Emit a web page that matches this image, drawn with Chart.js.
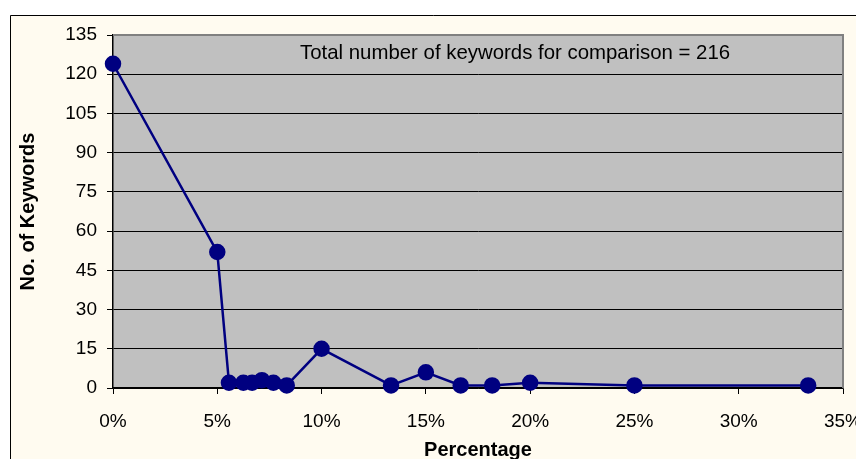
<!DOCTYPE html>
<html>
<head>
<meta charset="utf-8">
<script src="https://cdn.jsdelivr.net/npm/chart.js@4/dist/chart.umd.min.js"></script>
<style>
  html, body { margin: 0; padding: 0; background: #ffffff; }
  #wrap { width: 856px; height: 459px; position: relative; }
</style>
</head>
<body>
<div id="wrap"><canvas id="c" width="856" height="459"></canvas></div>
<script>
// Data
const percentages = [0, 5, 5.56, 6.25, 6.67, 7.14, 7.69, 8.33, 10, 13.33, 15, 16.67, 18.18, 20, 25, 33.33];
const keywordCounts = [124, 52, 2, 2, 2, 3, 2, 1, 15, 1, 6, 1, 1, 2, 1, 1];
const xTickValues = [0, 5, 10, 15, 20, 25, 30, 35];
const yTickValues = [0, 15, 30, 45, 60, 75, 90, 105, 120, 135];
const annotationText = 'Total number of keywords for comparison = 216';
const xTitle = 'Percentage';
const yTitle = 'No. of Keywords';

const CREAM = '#FFFBF0';
const PLOT_GRAY = '#C0C0C0';
const NAVY = '#000080';
const FONT = '"Liberation Sans", Arial, sans-serif';

const points = percentages.map((p, i) => ({ x: p, y: keywordCounts[i] }));

const backgroundPlugin = {
  id: 'bgPlugin',
  beforeDraw(chart) {
    const ctx = chart.ctx;
    const a = chart.chartArea;
    ctx.save();
    ctx.fillStyle = '#ffffff';
    ctx.fillRect(0, 0, chart.width, chart.height);
    ctx.fillStyle = CREAM;
    ctx.fillRect(10, 15, chart.width - 10, chart.height - 15);
    ctx.strokeStyle = '#000000';
    ctx.lineWidth = 1;
    ctx.beginPath();
    ctx.moveTo(10.5, chart.height);
    ctx.lineTo(10.5, 15.5);
    ctx.lineTo(chart.width, 15.5);
    ctx.stroke();
    ctx.fillStyle = PLOT_GRAY;
    ctx.fillRect(a.left, a.top, a.right - a.left, a.bottom - a.top);
    ctx.restore();
  },
  beforeDatasetsDraw(chart) {
    const ctx = chart.ctx;
    const a = chart.chartArea;
    ctx.save();
    ctx.strokeStyle = '#808080';
    ctx.lineWidth = 2;
    ctx.beginPath();
    ctx.moveTo(a.left, a.top);
    ctx.lineTo(a.right, a.top);
    ctx.lineTo(a.right, a.bottom);
    ctx.stroke();
    ctx.restore();
    // annotation text
    ctx.save();
    ctx.fillStyle = '#000000';
    ctx.font = '20.4px ' + FONT;
    ctx.textBaseline = 'middle';
    ctx.textAlign = 'left';
    ctx.fillText(annotationText, a.left + 187, a.top + 18);
    ctx.restore();
  }
};

new Chart(document.getElementById('c'), {
  type: 'scatter',
  data: {
    datasets: [{
      data: points,
      showLine: true,
      borderColor: NAVY,
      backgroundColor: NAVY,
      borderWidth: 2.5,
      pointRadius: 7,
      pointHoverRadius: 7,
      pointBackgroundColor: NAVY,
      pointBorderColor: NAVY,
      clip: false
    }]
  },
  options: {
    responsive: false,
    animation: false,
    devicePixelRatio: 1,
    layout: { padding: { left: 0, right: 13, top: 35, bottom: 0 } },
    plugins: { legend: { display: false }, tooltip: { enabled: false } },
    scales: {
      x: {
        type: 'linear',
        min: 0, max: 35,
        afterBuildTicks(scale) { scale.ticks = xTickValues.map(v => ({ value: v })); },
        afterFit(scale) { scale.height = 71; scale.paddingLeft = 0; scale.paddingRight = 0; },
        ticks: {
          color: '#000000',
          font: { family: FONT, size: 19 },
          padding: 16,
          maxRotation: 0,
          callback: v => v + '%'
        },
        grid: { drawOnChartArea: false, drawTicks: true, tickLength: 6, tickColor: '#000000', color: '#000000' },
        border: { display: true, color: '#000000', width: 1.5 },
        title: {
          display: true, text: xTitle, color: '#000000',
          font: { family: FONT, size: 20, weight: 'bold', lineHeight: 1.2 },
          padding: { top: 0, bottom: -3 }
        }
      },
      y: {
        type: 'linear',
        min: 0, max: 135,
        afterBuildTicks(scale) { scale.ticks = yTickValues.map(v => ({ value: v })); },
        afterFit(scale) { scale.width = 113; scale.paddingTop = 0; scale.paddingBottom = 0; },
        ticks: {
          color: '#000000',
          font: { family: FONT, size: 19 },
          padding: 10
        },
        grid: {
          drawTicks: true, tickLength: 6, tickColor: '#000000',
          color: ctx => (ctx.tick && ctx.tick.value === 135) ? '#808080' : '#000000',
          lineWidth: 1
        },
        border: { display: true, color: '#000000', width: 1.5 },
        title: {
          display: true, text: yTitle, color: '#000000',
          font: { family: FONT, size: 20, weight: 'bold', lineHeight: 1.2 },
          padding: { top: 16, bottom: 0 }
        }
      }
    }
  },
  plugins: [backgroundPlugin]
});
</script>
</body>
</html>
